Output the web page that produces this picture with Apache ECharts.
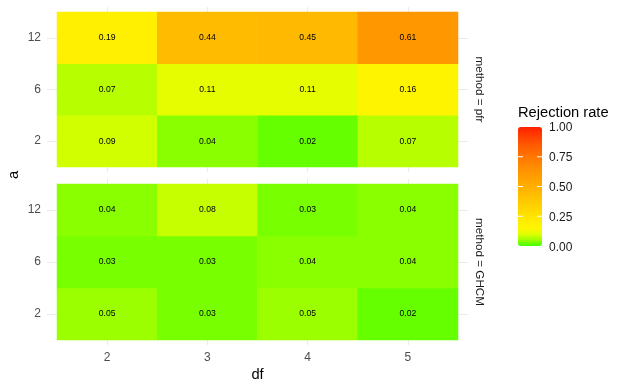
<!DOCTYPE html>
<html>
<head>
<meta charset="utf-8">
<script src="https://cdn.jsdelivr.net/npm/echarts@6/dist/echarts.min.js"></script>
<style>
  html, body { margin: 0; padding: 0; background: #fff; }
  #chart { width: 627px; height: 389px; }
</style>
</head>
<body>
<div id="chart"></div>
<script>
// levels
const dfLevels = ['2', '3', '4', '5'];
const aLevels = ['2', '6', '12'];
// rejection rates, one row per a level (bottom to top), one column per df
const pfrRates = [
  [0.09, 0.04, 0.02, 0.07],
  [0.07, 0.11, 0.11, 0.16],
  [0.19, 0.44, 0.45, 0.61]
];
const ghcmRates = [
  [0.05, 0.03, 0.05, 0.02],
  [0.03, 0.03, 0.04, 0.04],
  [0.04, 0.08, 0.03, 0.04]
];
const legendTicks = [0, 0.25, 0.5, 0.75, 1];

const FONT = '"Liberation Sans", Arial, sans-serif';
const GRID_COL = '#ebebeb';
// green -> yellow -> red, stops every 0.05
const rampColors = [
  '#42ff00', '#9cff00', '#e0ff00', '#fff500', '#ffee00', '#ffe400', '#ffd900',
  '#ffcf00', '#ffc400', '#ffb900', '#ffaf00', '#ffa500', '#ff9a00', '#ff8f00',
  '#ff8300', '#ff7600', '#ff6800', '#ff5900', '#ff4800', '#ff3400', '#ff2000'
];

const toCells = rows => {
  const out = [];
  rows.forEach((row, yi) => row.forEach((v, xi) => out.push([xi, yi, v])));
  return out;
};

const chart = echarts.init(document.getElementById('chart'), null, { renderer: 'canvas' });

const tick = len => ({ show: true, alignWithLabel: true, length: len, lineStyle: { color: GRID_COL, width: 1 } });

const xAxisFor = (gridIndex, position, showLabel) => ({
  gridIndex, type: 'category', data: dfLevels, position,
  axisLine: { show: false }, splitLine: { show: false },
  axisTick: tick(5),
  axisLabel: { show: showLabel, color: '#4d4d4d', fontSize: 12, fontFamily: FONT, margin: 12 },
  name: showLabel ? 'df' : '', nameLocation: 'middle', nameGap: 27,
  nameTextStyle: { color: '#000', fontSize: 14.7, fontFamily: FONT }
});
const yAxisFor = (gridIndex, position, showLabel, name) => ({
  gridIndex, type: 'category', data: aLevels, position,
  axisLine: { show: false }, splitLine: { show: false },
  axisTick: tick(10),
  axisLabel: { show: showLabel, color: '#4d4d4d', fontSize: 12, fontFamily: FONT, margin: 16 },
  name: name || '', nameLocation: 'middle', nameRotate: -90, nameGap: 15,
  nameTextStyle: { color: '#1a1a1a', fontSize: 11.7, fontFamily: FONT }
});

const barTop = 127, barH = 119, barLeft = 518, barW = 24;
const tickY = v => 247.5 - v * 119.5;
const markY = v => barTop + barH - v * barH;

const heat = (xi, yi, rows) => ({
  type: 'heatmap', xAxisIndex: xi, yAxisIndex: yi, data: toCells(rows),
  label: {
    show: true, color: '#000', fontSize: 8.6, fontFamily: FONT,
    formatter: p => p.value[2].toFixed(2)
  },
  emphasis: { disabled: true },
  itemStyle: { borderWidth: 0 }
});

chart.setOption({
  animation: false,
  grid: [
    { left: 57, width: 401, top: 12, height: 155 },
    { left: 57, width: 401, top: 184, height: 156 }
  ],
  xAxis: [
    xAxisFor(0, 'bottom', false), xAxisFor(0, 'top', false),
    xAxisFor(1, 'bottom', true), xAxisFor(1, 'top', false)
  ],
  yAxis: [
    yAxisFor(0, 'left', true), yAxisFor(0, 'right', false, 'method = pfr'),
    yAxisFor(1, 'left', true), yAxisFor(1, 'right', false, 'method = GHCM')
  ],
  visualMap: {
    type: 'continuous', min: 0, max: 1, calculable: false, seriesIndex: [0, 1],
    orient: 'vertical', left: barLeft, top: barTop, itemWidth: barW, itemHeight: barH,
    padding: 0, text: null, showLabel: false, hoverLink: false,
    inRange: { color: rampColors }
  },
  series: [heat(0, 0, pfrRates), heat(2, 2, ghcmRates)],
  graphic: [
    {
      type: 'text', x: 14, y: 175, rotation: Math.PI / 2,
      style: { text: 'a', fill: '#000', fontSize: 14.7, fontFamily: FONT, align: 'center', verticalAlign: 'middle' }
    },
    {
      type: 'text', x: barLeft, y: 113,
      style: { text: 'Rejection rate', fill: '#000', fontSize: 14.7, fontFamily: FONT, align: 'left', verticalAlign: 'middle' }
    },
    ...legendTicks.map(v => ({
      type: 'text', x: 549, y: tickY(v),
      style: { text: v.toFixed(2), fill: '#1a1a1a', fontSize: 12, fontFamily: FONT, align: 'left', verticalAlign: 'middle' }
    })),
    ...legendTicks.filter(v => v > 0 && v < 1).flatMap(v => [
      { type: 'line', z: 100, shape: { x1: barLeft, y1: markY(v), x2: barLeft + 5, y2: markY(v) }, style: { stroke: '#fff', lineWidth: 1 } },
      { type: 'line', z: 100, shape: { x1: barLeft + barW - 5, y1: markY(v), x2: barLeft + barW, y2: markY(v) }, style: { stroke: '#fff', lineWidth: 1 } }
    ])
  ]
});
</script>
</body>
</html>
